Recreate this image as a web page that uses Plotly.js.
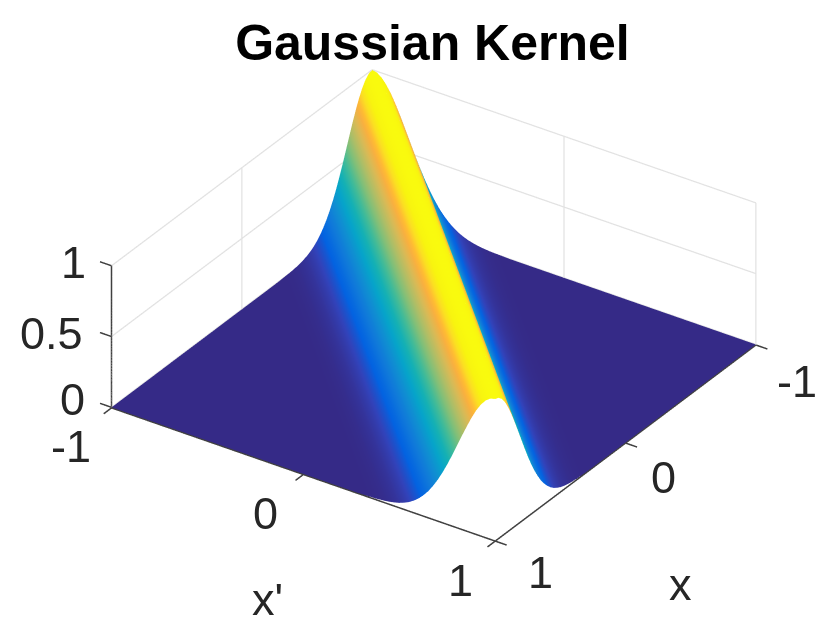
<!DOCTYPE html>
<html><head><meta charset="utf-8">
<script src="https://cdn.plot.ly/plotly-3.0.1.min.js"></script>
<style>html,body{margin:0;padding:0;background:#fff}#c{width:830px;height:629px}</style>
</head><body><div id="c"></div>
<script>
var titleText = 'Gaussian Kernel';
var xTicks = [-1, 0, 1];
var xTickText = ['-1', '0', '1'];
var zTicks = [0, 0.5, 1];
var zTickText = ['0', '0.5', '1'];
var gridStep = 0.025;
// height of the ridge read at steps of |x - x'| = 0.025
var ridgeProfile = [1,.991,.966,.925,.871,.805,.732,.654,.575,.496,.421,.351,.288,.232,.183,.143,.109,.082,.060,.044,.031,.022,.015,.010,.007,.004,.003,.002,.001];
var parula = [[0,'#352a87'],[0.063,'#3243ba'],[0.127,'#0363e1'],[0.206,'#1079da'],[0.286,'#108ed2'],[0.365,'#06a4ca'],[0.444,'#15b1b4'],[0.524,'#42bb98'],[0.603,'#7cbf7b'],[0.683,'#aebe67'],[0.762,'#d9ba56'],[0.825,'#f8b040'],[0.857,'#ffbc33'],[0.905,'#fbe022'],[0.95,'#f8f40f'],[1,'#f9fb0e']];

var coords = [], n = Math.round(2 / gridStep);
for (var i = 0; i <= n; i++) coords.push(-1 + i * gridStep);
var z = coords.map(function (_, r) {
  return coords.map(function (_, c) {
    var d = Math.abs(r - c);
    return d < ridgeProfile.length ? ridgeProfile[d] : 0;
  });
});

// axis furniture built from the tick arrays
var tickOut = 0.06, ext = 1.08, zFloor = -0.004, zPad = 0.012;
function Seg() { this.x = []; this.y = []; this.z = []; }
Seg.prototype.add = function (a, b) {
  this.x.push(a[0], b[0], null); this.y.push(a[1], b[1], null); this.z.push(a[2], b[2], null);
};
var grid = new Seg(), axes = new Seg();
xTicks.forEach(function (t) {
  grid.add([t, -1, zFloor], [t, -1, 1]);      // wall y = -1, verticals
  grid.add([-1, t, zFloor], [-1, t, 1]);      // wall x = -1, verticals
  axes.add([t, 1, zFloor], [t, 1 + tickOut, zFloor]);   // x ticks
  axes.add([1, t, zFloor], [1 + tickOut, t, zFloor]);   // x' ticks
});
zTicks.forEach(function (t) {
  grid.add([-1, -1, t], [1, -1, t]);
  grid.add([-1, -1, t], [-1, 1, t]);
  axes.add([1, -1, t], [1, -1 - tickOut, t]);
});
axes.add([1, -1, zFloor], [1, -1, 1]);
axes.add([1, -1, zFloor], [1, 1, zFloor]);
axes.add([-1, 1, zFloor], [1, 1, zFloor]);

var axisBase = {
  range: [-ext, ext], showbackground: false, showticklabels: false, showgrid: false, showline: false,
  zeroline: false, ticks: '', showspikes: false, title: {text: ''}
};
var xa = Object.assign({}, axisBase);
var ya = Object.assign({}, axisBase);
var za = Object.assign({}, axisBase, {range: [-zPad, 1 + zPad]});
var tf = {family: 'Liberation Sans', size: 45, color: '#262626'};
function lab(x, y, zz, t, dx, dy) {
  return {x: x, y: y, z: zz, text: t, showarrow: false, xanchor: 'center', yanchor: 'middle', xshift: dx, yshift: dy, font: tf};
}
var anns = [
  lab(1, -1, 1, zTickText[2], -38, 3),
  lab(1, -1, 0.5, zTickText[1], -60, 3),
  lab(1, -1, 0, zTickText[0], -39, 8),
  lab(1, -1, 0, xTickText[0], -41, -39),
  lab(1, 0, 0, xTickText[1], -38, -40),
  lab(1, 1, 0, xTickText[2], -35, -40),
  lab(1, 1, 0, xTickText[2], 45, -32),
  lab(0, 1, 0, xTickText[1], 38, -35),
  lab(-1, 1, 0, xTickText[0], 41, -37),
  lab(1, 0, 0, "x'", -36, -126),
  lab(0, 1, 0, 'x', 55, -142)
];
var k = 1.475;
var cx = 0.047, cy = -0.04, cz = -0.025, d = 1.067;
Plotly.newPlot('c', [
  {type: 'scatter3d', mode: 'lines', x: grid.x, y: grid.y, z: grid.z, line: {color: '#e2e2e2', width: 2.5}, hoverinfo: 'skip'},
  {type: 'surface', x: coords, y: coords, z: z, colorscale: parula, cmin: 0, cmax: 1, showscale: false,
   lighting: {ambient: 1, diffuse: 0, specular: 0, roughness: 1, fresnel: 0},
   contours: {x: {highlight: false}, y: {highlight: false}, z: {highlight: false}}, hoverinfo: 'skip'},
  {type: 'scatter3d', mode: 'lines', x: axes.x, y: axes.y, z: axes.z, line: {color: '#404040', width: 3}, hoverinfo: 'skip'}
], {
  width: 830, height: 629, paper_bgcolor: '#fff', showlegend: false,
  margin: {l: 0, r: 0, t: 0, b: 0},
  title: {text: '<b>' + titleText + '</b>', x: 0.521, xanchor: 'center', y: 0.932, yanchor: 'middle', font: {family: 'Liberation Sans', size: 50, color: '#000'}},
  scene: {
    domain: {x: [0, 1], y: [0, 1]},
    xaxis: xa, yaxis: ya, zaxis: za,
    annotations: anns,
    aspectmode: 'manual', aspectratio: {x: k * ext, y: k * ext, z: 0.355 * k * (1 + 2 * zPad)},
    camera: {eye: {x: 0.711 * d + cx, y: 0.483 * d + cy, z: 0.511 * d + cz}, center: {x: cx, y: cy, z: cz}, up: {x: 0, y: 0, z: 1}, projection: {type: 'orthographic'}}
  }
}, {displayModeBar: false});
</script></body></html>
